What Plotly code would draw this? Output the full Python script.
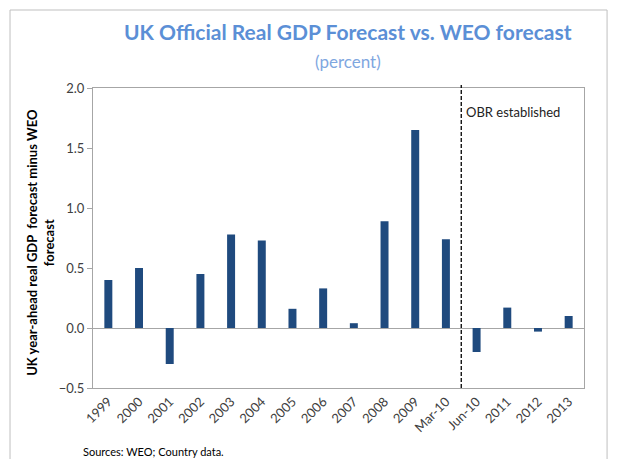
import plotly.graph_objects as go

# ── data ───────────────────────────────────────────────────────────────────────
periods = ["1999", "2000", "2001", "2002", "2003", "2004", "2005", "2006",
           "2007", "2008", "2009", "Mar-10", "Jun-10", "2011", "2012", "2013"]
gap_pct = [0.40, 0.50, -0.30, 0.45, 0.78, 0.73, 0.16, 0.33,
           0.04, 0.89, 1.65, 0.74, -0.20, 0.17, -0.03, 0.10]
y_ticks = [-0.5, 0.0, 0.5, 1.0, 1.5, 2.0]

_BAR   = "#1F4A7E"
_TITLE = "#5B8FD6"
_SUB   = "#7FA7DF"
_AXIS  = "#A6A6A6"
_TEXT  = "#404040"
_FONT  = "Lato, Open Sans, sans-serif"

fig = go.Figure(go.Bar(
    x=periods,
    y=gap_pct,
    marker=dict(color=_BAR, line=dict(width=0)),
))

fig.update_layout(
    width=618, height=459,
    paper_bgcolor="white", plot_bgcolor="white",
    margin=dict(l=93, r=34, t=88, b=71),
    bargap=0.74,
    showlegend=False,
    font=dict(family=_FONT, color=_TEXT, size=13),
)

fig.update_xaxes(
    type="category",
    automargin=False,
    tickangle=-45,
    tickfont=dict(size=13, color=_TEXT),
    showline=True, linecolor=_AXIS, linewidth=1, mirror=True,
    showgrid=False, ticks="",
)
fig.update_yaxes(
    automargin=False,
    range=[-0.5, 2.0],
    tickvals=y_ticks,
    tickformat=".1f",
    tickfont=dict(size=13, color=_TEXT),
    showline=True, linecolor=_AXIS, linewidth=1, mirror=True,
    ticks="outside", ticklen=5, tickcolor=_AXIS,
    showgrid=False,
    zeroline=True, zerolinecolor=_AXIS, zerolinewidth=1,
)

# y-axis title placed by hand (Excel puts it closer to the tick labels)
fig.add_annotation(x=-0.106, y=0.487, xref="paper", yref="paper",
                   text="<b>UK year-ahead real GDP  forecast minus WEO<br>forecast</b>",
                   textangle=-90, showarrow=False, xanchor="center", yanchor="middle",
                   font=dict(size=13, color="black"))

# OBR break line between Mar-10 and Jun-10
fig.add_shape(type="line", xref="x", yref="paper", x0=11.5, x1=11.5, y0=0, y1=1.01,
              line=dict(color="black", width=1.3, dash="4px,2px"))
fig.add_annotation(x=11.6, y=1.8, xref="x", yref="y", text="OBR established",
                   showarrow=False, xanchor="left", yanchor="middle",
                   font=dict(size=13, color="#222222"))

# titles
fig.add_annotation(x=0.52, y=1.19, xref="paper", yref="paper",
                   text="<b>UK Official Real GDP Forecast vs. WEO forecast</b>",
                   showarrow=False, xanchor="center", yanchor="middle",
                   font=dict(size=21, color=_TITLE))
fig.add_annotation(x=0.52, y=1.087, xref="paper", yref="paper", text="(percent)",
                   showarrow=False, xanchor="center", yanchor="middle",
                   font=dict(size=17, color=_SUB))
fig.add_annotation(x=-0.025, y=-0.21, xref="paper", yref="paper",
                   text="Sources: WEO; Country data.",
                   showarrow=False, xanchor="left", yanchor="middle",
                   font=dict(size=11, color="black"))

# outer chart frame
fig.add_shape(type="rect", xref="paper", yref="paper",
              x0=-0.169, x1=1.047, y0=-0.26, y1=1.26,
              line=dict(color="#BFBFBF", width=1), layer="below")

# drop the browser's default 8px body margin so the figure sits at (0, 0)
fig.write_html("out.html", config={"displayModeBar": False},
               post_script="document.body.style.margin='0';")
